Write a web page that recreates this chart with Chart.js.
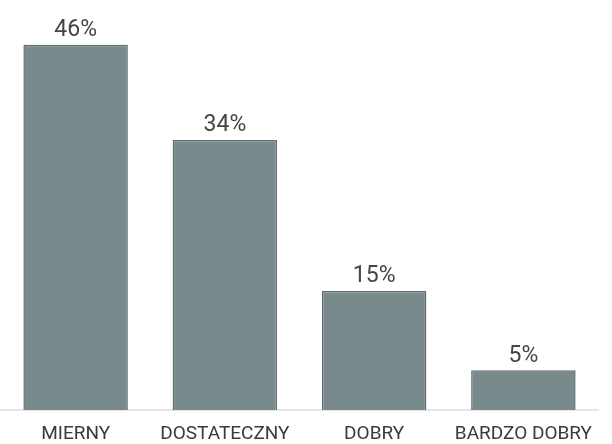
<!DOCTYPE html>
<html>
<head>
<meta charset="utf-8">
<script src="https://cdn.jsdelivr.net/npm/chart.js@4"></script>
<style>
  html, body { margin: 0; padding: 0; background: #fff; }
  #wrap { width: 612px; height: 444px; }
</style>
</head>
<body>
<div id="wrap"><canvas id="oceny"></canvas></div>
<script>
// oceny — rozkład procentowy, podpisy nad słupkami
const categories = ['MIERNY', 'DOSTATECZNY', 'DOBRY', 'BARDZO DOBRY'];
const percents = [46, 34, 15, 5];

const valueLabelPlugin = {
  id: 'valueLabel',
  afterDatasetsDraw(chart) {
    const { ctx, data } = chart;
    ctx.save();
    ctx.textAlign = 'center';
    ctx.textBaseline = 'bottom';
    ctx.fillStyle = '#454545';
    ctx.font = '23px Roboto, sans-serif';
    const meta = chart.getDatasetMeta(0);
    meta.data.forEach((bar, i) => {
      ctx.fillText(data.datasets[0].data[i] + '%', bar.x, bar.y - 3);
    });
    ctx.restore();
  },
};

new Chart(document.getElementById('oceny'), {
  type: 'bar',
  data: {
    labels: categories,
    datasets: [{
      data: percents,
      backgroundColor: '#788a8c',
      borderColor: '#5e6d6f',
      borderWidth: 1.5,
      barPercentage: 0.7,
      categoryPercentage: 1,
    }],
  },
  options: {
    responsive: true,
    maintainAspectRatio: false,
    animation: false,
    layout: { padding: { left: 1, right: 14, top: 13, bottom: 0 } },
    plugins: { legend: { display: false }, tooltip: { enabled: false } },
    scales: {
      x: {
        grid: { display: false, drawTicks: false },
        border: { display: true, color: '#e6e6e6', width: 2 },
        ticks: { color: '#3a3a3a', font: { family: 'Roboto', size: 19 }, padding: 13, maxRotation: 0 },
        // stała wysokość osi, żeby podpisy siedziały nisko
        afterFit(scale) { scale.height = 34; },
      },
      y: {
        display: false,
        min: 0,
        max: 50,
      },
    },
  },
  plugins: [valueLabelPlugin],
});
</script>
</body>
</html>
